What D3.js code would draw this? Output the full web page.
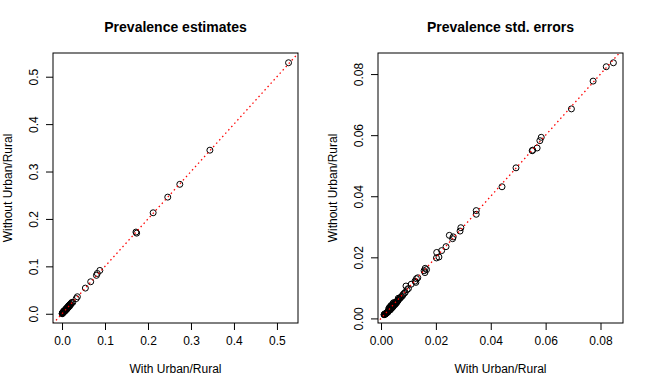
<!DOCTYPE html>
<html>
<head>
<meta charset="utf-8">
<title>Prevalence comparison</title>
<script src="https://d3js.org/d3.v7.min.js"></script>
<style>
  body { margin: 0; background: #fff; }
  text { font-family: "Liberation Sans", Arial, sans-serif; fill: #000; }
  .pt { fill: none; stroke: #000; stroke-width: 1; }
</style>
</head>
<body>
<svg id="chart" width="650" height="390"></svg>
<script>
"use strict";

// Prevalence estimates: with urban/rural (x) vs without (y)
const estWith = [
  0.527, 0.344, 0.274, 0.246, 0.212, 0.172, 0.1736, 0.088, 0.082, 0.080,
  0.0667, 0.0543, 0.0357, 0.033, 0.025, 0.023, 0.021, 0.020, 0.019, 0.018,
  0.0175, 0.017, 0.016, 0.015, 0.0145, 0.014, 0.013, 0.012, 0.011, 0.0105,
  0.010, 0.009, 0.008, 0.0075, 0.007, 0.006, 0.005, 0.0045, 0.004, 0.003,
  0.0025, 0.002, 0.0015, 0.001, 0.0005, 0.0003
];
const estWithout = [
  0.5295, 0.345, 0.273, 0.246, 0.213, 0.1723, 0.170, 0.0914, 0.085, 0.081,
  0.0675, 0.0541, 0.0359, 0.032, 0.024, 0.024, 0.022, 0.019, 0.020, 0.019,
  0.016, 0.018, 0.017, 0.014, 0.016, 0.013, 0.014, 0.011, 0.012, 0.009,
  0.011, 0.010, 0.007, 0.008, 0.006, 0.007, 0.004, 0.006, 0.005, 0.004,
  0.002, 0.003, 0.001, 0.002, 0.0008, 0.0
];

// Prevalence std. errors
const seWith = [
  0.0847, 0.0821, 0.0773, 0.0694, 0.0584, 0.0579, 0.0569, 0.0553, 0.0551, 0.0492,
  0.0441, 0.0347, 0.0347, 0.0291, 0.0288, 0.0261, 0.0263, 0.0249, 0.0237, 0.0221,
  0.0203, 0.0211, 0.0202, 0.0157, 0.0161, 0.0166, 0.0160, 0.0129, 0.0134, 0.0124,
  0.0127, 0.0110, 0.0091, 0.0100, 0.0095, 0.0088, 0.0084, 0.0080, 0.0078, 0.0074,
  0.0071, 0.0069, 0.0066, 0.0064, 0.0062, 0.0060, 0.0058, 0.0056, 0.0055, 0.0053,
  0.0052, 0.0050, 0.0049, 0.0047, 0.0046, 0.0045, 0.0044, 0.0043, 0.0042, 0.0041,
  0.0040, 0.0039, 0.0038, 0.0037, 0.0036, 0.0035, 0.0034, 0.0033, 0.0032, 0.0031,
  0.0030, 0.0029, 0.0028, 0.0027, 0.0026, 0.0025, 0.0024, 0.0023, 0.0022, 0.0021,
  0.0020, 0.0019, 0.0018, 0.0017, 0.0016, 0.0015, 0.0014, 0.0013, 0.0012, 0.0011,
  0.0045, 0.0050, 0.0038, 0.0060, 0.0032, 0.0028, 0.0055, 0.0042,
  0.0036, 0.0041, 0.0047, 0.0052, 0.0058, 0.0030, 0.0025, 0.0063, 0.0034, 0.0044
];
const seWithout = [
  0.0837, 0.0824, 0.0777, 0.0686, 0.0593, 0.0582, 0.0558, 0.0551, 0.0549, 0.0493,
  0.0431, 0.0353, 0.0341, 0.0297, 0.0286, 0.0261, 0.0267, 0.0272, 0.0235, 0.0222,
  0.0216, 0.0201, 0.0198, 0.0156, 0.0164, 0.0160, 0.0150, 0.0130, 0.0133, 0.0122,
  0.0118, 0.0112, 0.0106, 0.0098, 0.0094, 0.0085, 0.0082, 0.0078, 0.0074, 0.0071,
  0.0068, 0.0066, 0.0064, 0.0062, 0.0059, 0.0058, 0.0055, 0.0054, 0.0052, 0.0051,
  0.0049, 0.0048, 0.0046, 0.0045, 0.0043, 0.0042, 0.0041, 0.0040, 0.0039, 0.0038,
  0.0037, 0.0036, 0.0035, 0.0034, 0.0033, 0.0032, 0.0031, 0.0030, 0.0029, 0.0028,
  0.0027, 0.0026, 0.0025, 0.0024, 0.0023, 0.0022, 0.0021, 0.0020, 0.0019, 0.0018,
  0.0018, 0.0017, 0.0016, 0.0016, 0.0015, 0.0014, 0.0014, 0.0013, 0.0013, 0.0012,
  0.0040, 0.0046, 0.0041, 0.0056, 0.0036, 0.0031, 0.0050, 0.0045,
  0.0042, 0.0035, 0.0052, 0.0046, 0.0053, 0.0035, 0.0021, 0.0066, 0.0028, 0.0050
];

const estTicks = [0.0, 0.1, 0.2, 0.3, 0.4, 0.5];
const seTicks = [0.00, 0.02, 0.04, 0.06, 0.08];

const panels = [
  { title: "Prevalence estimates", xs: estWith, ys: estWithout, ticks: estTicks, fmt: d3.format(".1f"),
    left: 53, xDom: [-0.021, 0.549], yDom: [-0.0195, 0.550] },
  { title: "Prevalence std. errors", xs: seWith, ys: seWithout, ticks: seTicks, fmt: d3.format(".2f"),
    left: 378, xDom: [-0.0011, 0.0882], yDom: [-0.0015, 0.0869] }
];

const svg = d3.select("#chart");
const plotTop = 53, pw = 245, ph = 270;

panels.forEach((p, i) => {
  const x = d3.scaleLinear().domain(p.xDom).range([p.left, p.left + pw]);
  const y = d3.scaleLinear().domain(p.yDom).range([plotTop + ph, plotTop]);
  const g = svg.append("g");
  const cx = p.left + pw / 2;

  g.append("text").attr("x", cx).attr("y", 32)
    .attr("text-anchor", "middle").style("font-size", "14px").style("font-weight", "bold")
    .text(p.title);

  // axes (R style: ticks outward, labels rotated on y)
  const xa = g.append("g").attr("transform", `translate(0,${plotTop + ph})`)
    .call(d3.axisBottom(x).tickValues(p.ticks).tickFormat(p.fmt).tickSize(7).tickPadding(6));
  xa.select(".domain").remove();
  xa.selectAll("text").style("font-size", "12px").style("font-family", "Liberation Sans, Arial, sans-serif");
  xa.selectAll("line").attr("stroke", "#000");

  const ya = g.append("g").attr("transform", `translate(${p.left},0)`)
    .call(d3.axisLeft(y).tickValues(p.ticks).tickFormat(p.fmt).tickSize(7));
  ya.select(".domain").remove();
  ya.selectAll("line").attr("stroke", "#000");
  ya.selectAll("text")
    .attr("x", null).attr("dy", null)
    .attr("text-anchor", "middle")
    .attr("transform", "translate(-19,0) rotate(-90)")
    .attr("dominant-baseline", "central")
    .style("font-size", "12px").style("font-family", "Liberation Sans, Arial, sans-serif");

  g.append("text").attr("x", cx).attr("y", 373)
    .attr("text-anchor", "middle").style("font-size", "12px").text("With Urban/Rural");
  g.append("text")
    .attr("transform", `translate(${p.left - 45},${plotTop + ph / 2}) rotate(-90)`)
    .attr("text-anchor", "middle").attr("dominant-baseline", "central")
    .style("font-size", "12px").text("Without Urban/Rural");

  // reference line y = x
  const clipId = "clip" + i;
  svg.append("clipPath").attr("id", clipId)
    .append("rect").attr("x", p.left).attr("y", plotTop).attr("width", pw).attr("height", ph);
  const lo = Math.min(p.xDom[0], p.yDom[0]), hi = Math.max(p.xDom[1], p.yDom[1]);

  g.selectAll("circle.pt").data(p.xs.map((v, k) => [v, p.ys[k]]))
    .enter().append("circle").attr("class", "pt")
    .attr("cx", d => x(d[0])).attr("cy", d => y(d[1])).attr("r", 3);

  g.append("line").attr("clip-path", `url(#${clipId})`)
    .attr("x1", x(lo)).attr("y1", y(lo)).attr("x2", x(hi)).attr("y2", y(hi))
    .attr("stroke", "#ff0000").attr("stroke-width", 1.3).attr("stroke-dasharray", "1.5,3");

  g.append("rect").attr("x", p.left).attr("y", plotTop).attr("width", pw).attr("height", ph)
    .attr("fill", "none").attr("stroke", "#000").attr("stroke-width", 1);
});
</script>
</body>
</html>
